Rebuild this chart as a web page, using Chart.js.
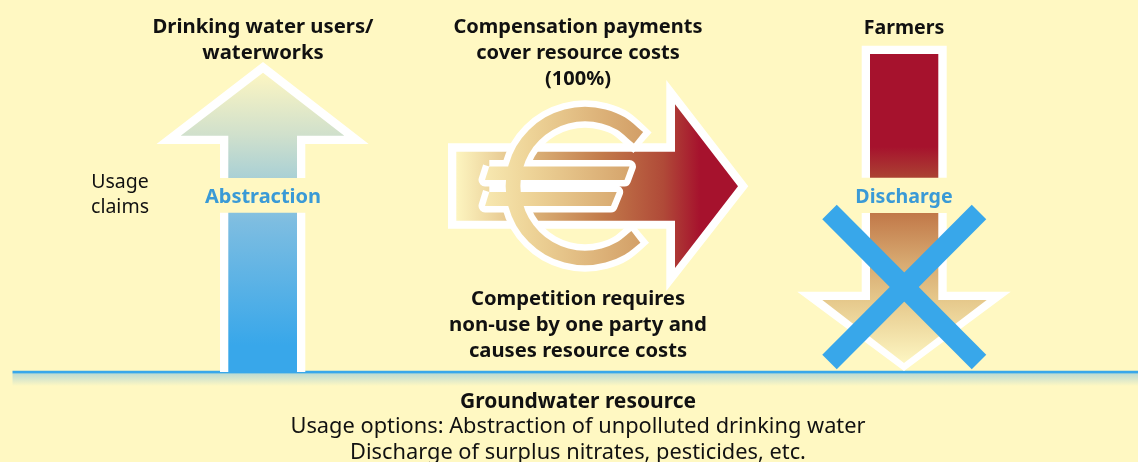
<!DOCTYPE html>
<html>
<head>
<meta charset="utf-8">
<title>Groundwater resource</title>
<script src="https://cdn.jsdelivr.net/npm/chart.js@4/dist/chart.umd.min.js"></script>
<style>
  html, body { margin: 0; padding: 0; background: #fff8c2; }
  #wrap { width: 1138px; height: 462px; position: relative; }
</style>
</head>
<body>
<div id="wrap"><canvas id="diagrama"></canvas></div>
<script>
// Dados: vertices of each shape, in picture units
const upOuterX = [263, 368.7, 305.3, 305.3, 220, 220, 156.5, 263];
const upOuterY = [62, 144, 144, 372, 372, 144, 144, 62];
const upInnerX = [263, 344.3, 297, 297, 228.3, 228.3, 180.7, 263];
const upInnerY = [72.7, 135.7, 135.7, 372, 372, 135.7, 135.7, 72.7];
const upGapX = [218, 307, 307, 218, 218];
const upGapY = [178, 178, 212.7, 212.7, 178];

const rightOuterX = [448, 666.3, 666.3, 748.3, 666.3, 666.3, 448, 448];
const rightOuterY = [143.3, 143.3, 80, 186.3, 291, 228.7, 228.7, 143.3];
const rightInnerX = [456.3, 675, 675, 738, 675, 675, 456.3, 456.3];
const rightInnerY = [151.7, 151.7, 104.3, 186.3, 268, 220.7, 220.7, 151.7];

const ringX = [638.5, 621, 603.6, 585, 566.4, 549, 534.1, 522.6, 515.5, 513, 515.5, 522.6, 534.1, 549, 566.4, 585, 603.6, 621, 635.9];
const ringY = [137.8, 123.6, 116.5, 114, 116.5, 123.6, 135.1, 150, 167.4, 186, 204.6, 222, 236.9, 248.4, 255.5, 258, 255.5, 248.4, 236.9];
const ringEdgeX = [642.5, 621, 603.6, 585, 566.4, 549, 534.1, 522.6, 515.5, 513, 515.5, 522.6, 534.1, 549, 566.4, 585, 603.6, 621, 640.2];
const ringEdgeY = [142.7, 123.6, 116.5, 114, 116.5, 123.6, 135.1, 150, 167.4, 186, 204.6, 222, 236.9, 248.4, 255.5, 258, 255.5, 248.4, 232.3];
const barTopX = [489.3, 629.5, 624.5, 485, 489.3];
const barTopY = [166.5, 166.5, 180, 180, 166.5];
const barLowX = [489.3, 616.7, 611, 485, 489.3];
const barLowY = [192, 192, 206, 206, 192];

const downOuterX = [861.7, 946.7, 946.7, 1010.7, 904, 797.3, 861.7, 861.7];
const downOuterY = [45.7, 45.7, 291.7, 291.7, 371, 291.7, 291.7, 45.7];
const downInnerX = [870, 938.3, 938.3, 986.7, 904, 822.3, 870, 870];
const downInnerY = [54, 54, 300, 300, 363, 300, 300, 54];
const downGapX = [859, 949, 949, 859, 859];
const downGapY = [177.7, 177.7, 213, 213, 177.7];

const crossAX = [829.5, 979];
const crossAY = [212, 362];
const crossBX = [979, 829.5];
const crossBY = [212, 362];

const groundX = [12.5, 1138];
const groundY = [372.2, 372.2];
const glowX = [12.5, 1138, 1138, 12.5, 12.5];
const glowY = [373.5, 373.5, 386, 386, 373.5];

// Textos
const labelLines = ['Drinking water users/', 'waterworks', 'Compensation payments', 'cover resource costs', '(100%)', 'Farmers',
  'Usage', 'claims', 'Abstraction', 'Discharge', 'Competition requires', 'non-use by one party and', 'causes resource costs',
  'Groundwater resource', 'Usage options: Abstraction of unpolluted drinking water', 'Discharge of surplus nitrates, pesticides, etc.'];
const labelX = [263, 263, 578, 578, 578, 904, 120, 120, 263, 904, 578, 578, 578, 578, 578, 578];
const labelY = [33, 59, 33, 59, 85, 34, 188, 213, 203, 203, 305, 331, 357, 408, 433, 459];
const labelKind = ['b', 'b', 'b', 'b', 'b', 'b', 'r', 'r', 'c', 'c', 'b', 'b', 'b', 'b', 'r', 'r'];
const labelSize = [20.3, 20.3, 20, 20, 20, 19.6, 19.5, 19.5, 20, 19.6, 20.2, 20.4, 20.2, 21, 21.8, 21.8];

const FONTE = '"Noto Sans"';
const BG = '#fff8c2';
const AZUL = '#38a7ea';

function pts(xs, ys) { return xs.map((x, i) => ({ x: x, y: ys[i] })); }

// gradient from picture units, goes through the scales
function grad(a0, a1, vertical, stops) {
  return function (ctx) {
    const c = ctx.chart;
    if (!c.chartArea) return stops[0][1];
    const sx = c.scales.x, sy = c.scales.y;
    const g = vertical
      ? c.ctx.createLinearGradient(0, sy.getPixelForValue(a0), 0, sy.getPixelForValue(a1))
      : c.ctx.createLinearGradient(sx.getPixelForValue(a0), 0, sx.getPixelForValue(a1), 0);
    stops.forEach(s => g.addColorStop(s[0], s[1]));
    return g;
  };
}

const gradUp = grad(72, 345, true, [[0, '#fdf6c2'], [0.23, '#d0e0cc'], [0.39, '#a9d0d5'], [0.55, '#7dbde1'], [1, '#38a7ea']]);
const gradRight = grad(456, 700, false, [[0, '#fdf5c0'], [0.35, '#d8ab72'], [0.6, '#c27a4a'], [0.85, '#b04a38'], [1, '#a6122d']]);
const gradEuro = grad(456, 700, false, [[0, '#fdf5c0'], [0.3, '#eed498'], [0.75, '#d3a068'], [1, '#c98a55']]);
const gradDown = grad(54, 363, true, [[0, '#a6122d'], [0.3, '#a6122d'], [0.4, '#ab4233'], [0.52, '#c27a4a'], [0.68, '#d8ab72'], [0.8, '#e6c98c'], [1, '#fdf6c2']]);
const gradGlow = grad(373.5, 386, true, [[0, '#bcdad2'], [1, BG]]);

function poly(xs, ys, fill) {
  return { data: pts(xs, ys), showLine: true, fill: 'shape', backgroundColor: fill, borderWidth: 0, pointRadius: 0, tension: 0, clip: false };
}
function stroke(xs, ys, color, width, tension, join, cap) {
  return { data: pts(xs, ys), showLine: true, fill: false, borderColor: color, borderWidth: width, pointRadius: 0,
    tension: tension || 0, borderJoinStyle: join || 'miter', borderCapStyle: cap || 'butt', clip: false };
}

const textPlugin = {
  id: 'textos',
  afterDatasetsDraw(chart) {
    const c = chart.ctx;
    c.save();
    c.textAlign = 'center';
    c.textBaseline = 'alphabetic';
    labelLines.forEach((t, i) => {
      const k = labelKind[i];
      c.font = (k === 'r' ? '' : 'bold ') + labelSize[i] + 'px ' + FONTE;
      c.fillStyle = k === 'c' ? '#3a9ad6' : '#111111';
      c.fillText(t, chart.scales.x.getPixelForValue(labelX[i]), chart.scales.y.getPixelForValue(labelY[i]));
    });
    c.restore();
  }
};

new Chart(document.getElementById('diagrama'), {
  type: 'scatter',
  data: {
    datasets: [
      // drawn last is on top, so the order is set from the list position
      poly(glowX, glowY, gradGlow),
      stroke(groundX, groundY, AZUL, 2.8),
      poly(upOuterX, upOuterY, '#ffffff'),
      poly(upInnerX, upInnerY, gradUp),
      poly(upGapX, upGapY, BG),
      poly(rightOuterX, rightOuterY, '#ffffff'),
      poly(rightInnerX, rightInnerY, gradRight),
      stroke(barTopX, barTopY, '#ffffff', 13, 0, 'round'),
      stroke(barLowX, barLowY, '#ffffff', 13, 0, 'round'),
      stroke(ringEdgeX, ringEdgeY, '#ffffff', 27.5, 0.33),
      stroke(ringX, ringY, gradEuro, 14.7, 0.33),
      poly(barTopX, barTopY, gradEuro),
      poly(barLowX, barLowY, gradEuro),
      poly(downOuterX, downOuterY, '#ffffff'),
      poly(downInnerX, downInnerY, gradDown),
      poly(downGapX, downGapY, BG),
      stroke(crossAX, crossAY, AZUL, 20.5),
      stroke(crossBX, crossBY, AZUL, 20.5)
    ].map((d, i, all) => Object.assign(d, { order: all.length - i }))
  },
  options: {
    responsive: true,
    maintainAspectRatio: false,
    animation: false,
    events: [],
    layout: { padding: 0 },
    plugins: { legend: { display: false }, tooltip: { enabled: false }, title: { display: false } },
    scales: {
      x: { type: 'linear', min: 0, max: 1138, display: false },
      y: { type: 'linear', min: 0, max: 462, reverse: true, display: false }
    }
  },
  plugins: [textPlugin]
});
</script>
</body>
</html>
